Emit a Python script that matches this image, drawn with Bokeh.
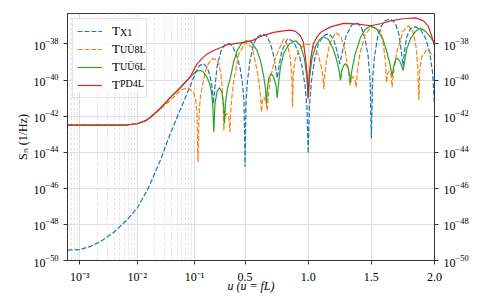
import numpy as np
from bokeh.plotting import figure
from bokeh.models import (FixedTicker, LogAxis, Legend, LegendItem, Label, BoxAnnotation,
                          Range1d, CustomJSTickFormatter)
from bokeh.embed import file_html
from bokeh.resources import INLINE

# ---------------- data (u = fL, S_n in 1/Hz, given as log10 S_n) ----------------
x1_u = [6.1e-4, 1.02e-3, 1.53e-3, 2.29e-3, 3.86e-3, 6.68e-3, 0.0101, 0.0157, 0.0255, 0.0352,
        0.0505, 0.0697, 0.0923, 0.115, 0.14, 0.171, 0.2, 0.22, 0.237, 0.25, 0.263, 0.28, 0.31,
        0.34, 0.369, 0.4, 0.43, 0.46, 0.48, 0.492, 0.5, 0.508, 0.52, 0.54, 0.57, 0.6, 0.638,
        0.67, 0.7, 0.725, 0.742, 0.755, 0.768, 0.79, 0.836, 0.88, 0.92, 0.95, 0.975, 0.99, 1.0,
        1.01, 1.025, 1.05, 1.08, 1.12, 1.161, 1.2, 1.225, 1.25, 1.275, 1.3, 1.345, 1.39, 1.42,
        1.45, 1.475, 1.49, 1.5, 1.51, 1.525, 1.55, 1.58, 1.61, 1.652, 1.69, 1.72, 1.737, 1.75,
        1.763, 1.78, 1.81, 1.85, 1.89, 1.93, 1.96, 1.985, 2.0]
x1_log_s = [-49.43, -49.39, -49.22, -48.95, -48.45, -47.74, -47.08, -45.98, -44.43, -43.22,
            -42.01, -40.96, -40.02, -39.5, -39.2, -39.09, -39.3, -39.7, -40.3, -41.3, -40.3, -39.2,
            -38.4, -38.05, -37.97, -38.1, -38.55, -39.3, -40.2, -41.2, -44.8, -41.2, -40.0, -38.9,
            -37.95, -37.6, -37.43, -37.55, -37.95, -38.6, -39.3, -39.9, -39.3, -38.4, -37.71,
            -37.85, -38.4, -39.2, -40.3, -41.5, -44.06, -41.5, -40.1, -38.9, -38.0, -37.55, -37.43,
            -37.7, -38.3, -39.1, -38.3, -37.55, -36.95, -36.85, -37.05, -37.7, -38.7, -40.0,
            -43.23, -40.0, -38.7, -37.6, -37.0, -36.7, -36.62, -36.85, -37.5, -38.4, -39.2, -38.4,
            -37.6, -37.15, -37.05, -37.2, -37.7, -38.4, -39.6, -41.4]

u8l_u = [6.1e-4, 6e-3, 0.0101, 0.014, 0.017, 0.0255, 0.038, 0.057, 0.0755, 0.0961, 0.11, 0.12,
         0.128, 0.136, 0.147, 0.161, 0.18, 0.2, 0.24, 0.27, 0.292, 0.31, 0.319, 0.327, 0.332,
         0.338, 0.345, 0.356, 0.367, 0.374, 0.38, 0.386, 0.395, 0.411, 0.45, 0.504, 0.557, 0.601,
         0.615, 0.624, 0.63, 0.637, 0.649, 0.66, 0.668, 0.676, 0.684, 0.702, 0.741, 0.807, 0.84,
         0.858, 0.87, 0.876, 0.882, 0.895, 0.93, 0.97, 1.0, 1.042, 1.08, 1.105, 1.118, 1.124,
         1.13, 1.145, 1.17, 1.216, 1.26, 1.29, 1.315, 1.33, 1.345, 1.357, 1.37, 1.38, 1.39, 1.41,
         1.45, 1.5, 1.573, 1.595, 1.612, 1.62, 1.63, 1.643, 1.655, 1.665, 1.675, 1.7, 1.75,
         1.794, 1.83, 1.855, 1.868, 1.876, 1.884, 1.9, 1.94, 2.0]
u8l_log_s = [-42.5, -42.5, -42.42, -42.25, -42.07, -41.6, -41.12, -40.57, -40.41, -40.68, -41.1,
             -41.9, -44.54, -41.9, -40.9, -40.39, -39.7, -39.2, -38.81, -38.85, -39.1, -39.7,
             -40.39, -41.3, -42.78, -42.2, -41.95, -41.84, -41.95, -42.2, -42.87, -41.8, -41.0,
             -40.02, -38.55, -37.91, -38.19, -39.65, -40.4, -41.0, -41.77, -41.2, -40.94, -41.1,
             -41.3, -41.67, -40.9, -39.84, -38.74, -37.72, -38.1, -38.8, -39.7, -41.49, -39.7,
             -38.9, -38.3, -38.05, -38.0, -38.15, -38.6, -39.3, -39.9, -40.5, -39.8, -38.9, -38.0,
             -37.36, -37.6, -38.3, -39.3, -40.3, -39.9, -39.8, -40.0, -40.39, -39.5, -38.5, -37.5,
             -37.05, -37.27, -38.0, -39.0, -40.13, -39.6, -39.5, -39.7, -40.39, -39.6, -38.5,
             -37.3, -36.99, -37.3, -38.2, -39.3, -41.12, -39.4, -38.7, -38.3, -38.7]

u6l_u = [6.1e-4, 6e-3, 0.0101, 0.014, 0.017, 0.0255, 0.038, 0.057, 0.075, 0.09, 0.1, 0.12,
         0.1475, 0.17, 0.2, 0.22, 0.235, 0.245, 0.253, 0.262, 0.28, 0.3, 0.318, 0.33, 0.3375,
         0.345, 0.36, 0.385, 0.41, 0.438, 0.47, 0.51, 0.55, 0.596, 0.625, 0.649, 0.662, 0.67,
         0.678, 0.69, 0.707, 0.725, 0.745, 0.755, 0.765, 0.78, 0.805, 0.85, 0.9, 0.94, 0.97,
         0.99, 1.0, 1.01, 1.03, 1.06, 1.09, 1.121, 1.16, 1.2, 1.23, 1.248, 1.256, 1.265, 1.28,
         1.296, 1.315, 1.33, 1.335, 1.345, 1.37, 1.414, 1.45, 1.494, 1.54, 1.59, 1.625, 1.65,
         1.66, 1.665, 1.675, 1.69, 1.705, 1.725, 1.745, 1.752, 1.76, 1.78, 1.81, 1.85, 1.889,
         1.93, 1.96, 2.0]
u6l_log_s = [-42.5, -42.5, -42.42, -42.25, -42.06, -41.56, -40.96, -40.41, -40.0, -39.75, -39.6,
             -39.5, -39.47, -39.55, -39.85, -40.2, -40.7, -41.4, -42.87, -41.3, -40.6, -40.42,
             -40.7, -41.4, -42.41, -41.3, -40.5, -39.84, -39.0, -38.37, -38.0, -37.82, -37.9,
             -38.37, -39.0, -39.84, -40.5, -41.31, -40.4, -39.85, -39.65, -39.8, -40.3, -40.98,
             -40.2, -39.3, -38.53, -38.0, -37.82, -38.1, -38.8, -39.9, -41.0, -39.9, -38.8,
             -38.1, -37.75, -37.6, -37.75, -38.3, -39.0, -39.6, -40.02, -39.5, -39.2, -39.09,
             -39.3, -39.8, -40.12, -39.5, -38.6, -37.64, -37.2, -36.99, -37.15, -37.7, -38.5,
             -39.2, -39.6, -39.8, -39.3, -38.9, -38.78, -38.95, -39.3, -39.47, -39.1, -38.3,
             -37.7, -37.3, -37.13, -37.3, -37.55, -37.93]

pd4l_u = [6.1e-4, 6e-3, 0.0101, 0.014, 0.017, 0.0255, 0.038, 0.057, 0.085, 0.1, 0.121, 0.16,
          0.2, 0.24, 0.28, 0.36, 0.49, 0.56, 0.623, 0.725, 0.805, 0.86, 0.9, 0.939, 0.962, 0.978,
          0.992, 1.0, 1.008, 1.022, 1.04, 1.07, 1.1, 1.177, 1.28, 1.38, 1.494, 1.573, 1.652,
          1.75, 1.85, 1.913, 1.95, 1.975, 2.0]
pd4l_log_s = [-42.5, -42.5, -42.42, -42.25, -42.06, -41.56, -40.96, -40.41, -39.8, -39.36, -39.1,
              -38.8, -38.55, -38.4, -38.28, -38.04, -37.91, -37.8, -37.58, -37.36, -37.27, -37.23,
              -37.3, -37.54, -37.9, -38.74, -39.7, -41.0, -39.7, -38.74, -38.0, -37.6, -37.35,
              -37.05, -36.86, -36.88, -36.99, -36.88, -36.72, -36.6, -36.55, -36.72, -37.0,
              -37.5, -38.1]

x_tick_u = [1e-3, 1e-2, 1e-1, 0.5, 1.0, 1.5, 2.0]
x_tick_labels = ["10\u207b\u00b3", "10\u207b\u00b2", "10\u207b\u00b9", "0.5", "1.0", "1.5", "2.0"]
y_ticks = [1e-50, 1e-48, 1e-46, 1e-44, 1e-42, 1e-40, 1e-38]

names = ["X1", "U\u016a8L", "U\u016a6L", "PD4L"]
colors = ["#1f77b4", "#ff7f0e", "#2ca02c", "#d62728"]
dashes = ["5 2", "5 2", "solid", "solid"]

# ---------------- mixed x scale: log below u=0.1, linear above ----------------
K = 126.3 / 57.3  # decades-equivalent per unit u in the linear part


def xt(u):
    u = np.asarray(u, dtype=float)
    return np.where(u <= 0.1, np.log10(np.maximum(u, 1e-12)), -1.0 + (u - 0.1) * K)


X0, X1 = float(xt(6.08e-4)), float(xt(2.0))
Y0, Y1 = -50.0, -36.31

FL, FT, FW, FH = 67, 13, 367, 247  # frame placement inside the figure

p = figure(output_backend="svg", toolbar_location=None, y_axis_type="log",
           x_range=Range1d(X0, X1), y_range=Range1d(10 ** Y0, 10 ** Y1),
           frame_width=FW, frame_height=FH,
           min_border_left=FL, min_border_top=FT, min_border_right=40, min_border_bottom=36,
           background_fill_color="white", border_fill_color="white")

FONT = "Liberation Serif"

minor = []
for e in (-4, -3, -2):
    for k in range(2, 10):
        v = np.log10(k * 10.0 ** e)
        if X0 < v < -1:
            minor.append(float(v))

xtick_pos = [float(v) for v in xt(x_tick_u)]
xticker = FixedTicker(ticks=xtick_pos, minor_ticks=minor)
p.xaxis.ticker = xticker
p.xaxis.formatter = CustomJSTickFormatter(args=dict(pos=xtick_pos, labels=x_tick_labels), code="""
let best = 0, d = 1e9;
for (let i = 0; i < pos.length; i++) { const dd = Math.abs(pos[i] - tick); if (dd < d) { d = dd; best = i; } }
return labels[best];
""")
yticker = FixedTicker(ticks=y_ticks, minor_ticks=[])
p.yaxis.ticker = yticker

right = LogAxis(ticker=yticker)
p.add_layout(right, "right")

left = p.yaxis[0]
bottom = p.xaxis[0]
for ax in [bottom, left, right]:
    ax.major_label_text_font = FONT
    ax.major_label_text_font_size = "12px"
    ax.major_label_text_color = "black"
    ax.axis_line_color = "#333333"
    ax.major_tick_line_color = "#333333"
    ax.major_tick_out = 4
    ax.major_tick_in = 0
    ax.minor_tick_out = 0
    ax.minor_tick_in = 0
    ax.axis_label_text_font = FONT
    ax.axis_label_text_font_size = "12px"
    ax.axis_label_text_font_style = "normal"
    ax.axis_label_text_color = "black"

bottom.axis_label = "u (u = fL)"
bottom.axis_label_text_font_style = "italic"
bottom.axis_label_standoff = -8
left.axis_label = "S\u2099 (1/Hz)"
left.axis_label_standoff = 0

p.outline_line_color = "#333333"
p.xgrid.grid_line_color = "#dedede"
p.xgrid.minor_grid_line_color = "#e4e4e4"
p.xgrid.minor_grid_line_dash = "3 2"
p.ygrid.grid_line_color = "#dedede"

series = [(x1_u, x1_log_s), (u8l_u, u8l_log_s), (u6l_u, u6l_log_s), (pd4l_u, pd4l_log_s)]
renderers = []
for (uu, ls), c, d in zip(series, colors, dashes):
    r = p.line(xt(uu), np.power(10.0, np.asarray(ls)), line_color=c, line_width=1.2, line_dash=d)
    renderers.append(r)


def px_to_data(ax_px, ay_px):
    # figure pixel -> data coordinates
    fx = ax_px - FL
    fy = ay_px - FT
    xd = X0 + fx / FW * (X1 - X0)
    yd = Y1 - fy / FH * (Y1 - Y0)
    return xd, 10 ** yd


# white backing for the legend box (drawn above the curves, below the texts)
bl, bt = px_to_data(72, 18)
br, bb = px_to_data(145, 92)
p.add_layout(BoxAnnotation(left=bl, right=br, top=bt, bottom=bb, fill_color="white",
                           fill_alpha=0.85, line_alpha=0, level="glyph"))

legend = Legend(items=[LegendItem(label="T", renderers=[r]) for r in renderers],
                location="top_left", margin=5, padding=4, spacing=2,
                glyph_width=25, glyph_height=12, label_height=12, label_width=30,
                label_standoff=10, label_text_font=FONT, label_text_font_size="13px",
                label_text_color="black",
                border_line_color="#cccccc", background_fill_alpha=0.0)
p.add_layout(legend)

for i, nm in enumerate(names):
    xd, yd = px_to_data(119.5, 31.5 + 17 * i)
    p.add_layout(Label(x=xd, y=yd, text=nm, text_font=FONT, text_font_size="10px",
                       text_color="black", text_baseline="middle", text_align="left",
                       level="overlay"))

open("out.html", "w").write(file_html(p, INLINE))
